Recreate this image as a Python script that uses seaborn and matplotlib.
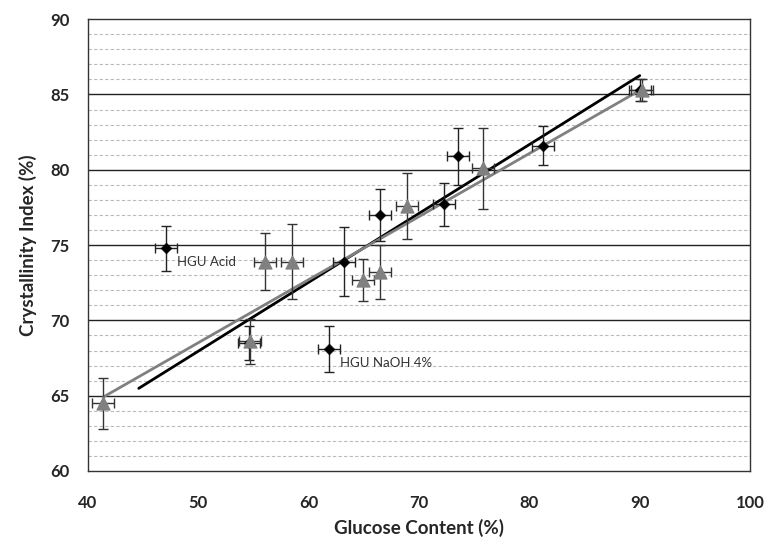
import numpy as np
import pandas as pd
import seaborn as sns
from matplotlib import pyplot as plt

# black diamonds (first two are the labelled outliers, kept out of the fit)
black_labels = ["HGU Acid", "HGU NaOH 4%", "", "", "", "", "", "", ""]
black_x = [47.1, 61.8, 54.6, 63.2, 66.5, 72.3, 73.5, 81.2, 90.0]
black_y = [74.8, 68.1, 68.5, 73.9, 77.0, 77.7, 80.9, 81.6, 85.3]
black_yerr = [1.5, 1.5, 1.1, 2.3, 1.7, 1.45, 1.9, 1.3, 0.7]
black_xerr = [1.0, 1.0, 1.0, 1.0, 1.0, 1.0, 1.0, 1.0, 1.0]

# grey triangles
grey_x = [41.4, 54.7, 56.0, 58.5, 64.9, 66.5, 68.9, 75.8, 90.2]
grey_y = [64.5, 68.6, 73.9, 73.9, 72.7, 73.2, 77.6, 80.1, 85.3]
grey_yerr = [1.7, 1.5, 1.9, 2.5, 1.4, 1.8, 2.2, 2.7, 0.7]
grey_xerr = [1.0, 1.0, 1.0, 1.0, 1.0, 1.0, 1.0, 1.0, 1.0]

black_fit_start = 44.6  # trendline forecast backward

sns.set_style("white")
plt.rcParams["font.family"] = ["Lato", "DejaVu Sans"]

df_b = pd.DataFrame({"x": black_x, "y": black_y})
df_g = pd.DataFrame({"x": grey_x, "y": grey_y})

fig = plt.figure(figsize=(7.69, 5.45), dpi=100)
ax = fig.add_axes([0.1144, 0.1358, 0.861, 0.829])

# grid lines
for v in range(61, 90):
    if v % 5:
        ax.axhline(v, color="#bbbbbb", lw=0.8, ls=(0, (3, 2)), zorder=0)
    else:
        ax.axhline(v, color="#222222", lw=1.0, zorder=0)

# trendlines
fit_b = np.polyfit(black_x[2:], black_y[2:], 1)
xb = np.array([black_fit_start, black_x[-1]])
sns.lineplot(x=xb, y=np.polyval(fit_b, xb), color="black", lw=2, ax=ax, zorder=2)
fit_g = np.polyfit(grey_x, grey_y, 1)
xg = np.array([min(grey_x), max(grey_x)])
sns.lineplot(x=xg, y=np.polyval(fit_g, xg), color="#808080", lw=2, ax=ax, zorder=2)

ax.errorbar(black_x, black_y, yerr=black_yerr, xerr=black_xerr, fmt="none",
            ecolor="#222222", elinewidth=1, capsize=3.5, capthick=1, zorder=3)
ax.errorbar(grey_x, grey_y, yerr=grey_yerr, xerr=grey_xerr, fmt="none",
            ecolor="#333333", elinewidth=1, capsize=3.5, capthick=1, zorder=3)

sns.scatterplot(data=df_b, x="x", y="y", marker="D", color="black", s=30,
                edgecolor="black", ax=ax, zorder=4)
sns.scatterplot(data=df_g, x="x", y="y", marker="^", color="#808080", s=90,
                edgecolor="#808080", ax=ax, zorder=5)

for lab, x, y in zip(black_labels, black_x, black_y):
    if lab:
        ax.annotate(lab, (x, y), xytext=(8, -13), textcoords="offset points",
                    fontsize=9.5, color="#333333")

ax.set_xlim(40, 100)
ax.set_ylim(60, 90)
ax.set_xticks(range(40, 101, 10))
ax.set_yticks(range(60, 91, 5))
ax.tick_params(axis="both", direction="out", length=5, width=1, color="#222222",
               labelsize=12, pad=8)
ax.tick_params(axis="x", pad=12)
for t in ax.get_xticklabels() + ax.get_yticklabels():
    t.set_fontweight("bold")
for s in ax.spines.values():
    s.set_color("#333333")
    s.set_linewidth(1.0)

ax.set_xlabel("Glucose Content (%)", fontsize=13.5, fontweight="bold", labelpad=6)
ax.set_ylabel("Crystallinity Index (%)", fontsize=13.5, fontweight="bold", labelpad=10)

fig.savefig("out.png", dpi=100)
